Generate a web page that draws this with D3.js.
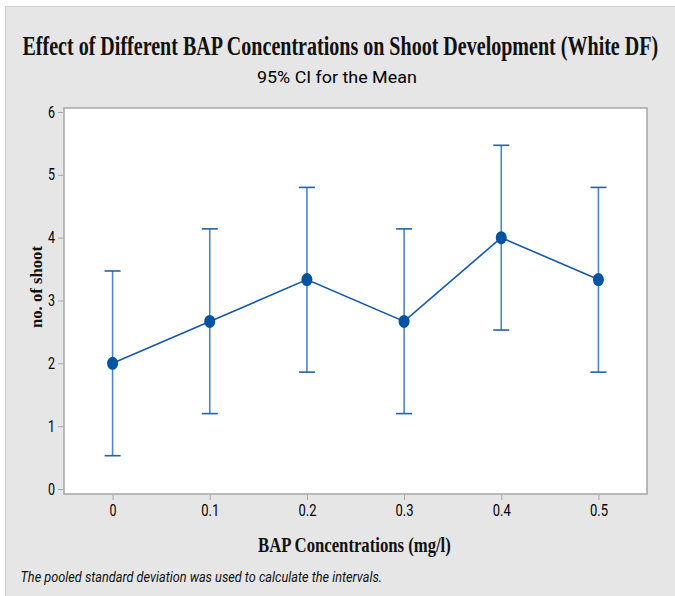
<!DOCTYPE html>
<html>
<head>
<meta charset="utf-8">
<script src="https://cdn.jsdelivr.net/npm/d3@7"></script>
<style>
  body { margin: 0; background: #fff; }
  svg { display: block; }
</style>
</head>
<body>
<svg id="chart" width="675" height="596"></svg>
<script>
// chart values
var concentrations = ["0", "0.1", "0.2", "0.3", "0.4", "0.5"];
var means = [2.0, 2.667, 3.333, 2.667, 4.0, 3.333];
var ci_upper = [3.47, 4.14, 4.80, 4.14, 5.47, 4.80];
var ci_lower = [0.53, 1.20, 1.86, 1.20, 2.53, 1.86];
var y_ticks = [0, 1, 2, 3, 4, 5, 6];

var svg = d3.select("#chart");

// squeeze a text horizontally so it spans width w, starting at x
function fit_text(sel, x, y, w, rot) {
    var natural = sel.node().getComputedTextLength();
    var sx = w / natural;
    if (rot) {
        sel.attr("transform", "translate(" + x + "," + y + ") rotate(-90) scale(" + sx + ",1)");
    } else {
        sel.attr("transform", "translate(" + x + "," + y + ") scale(" + sx + ",1)");
    }
}

// outer gray panel with thin border
svg.append("rect")
    .attr("x", 5.5).attr("y", 6.5)
    .attr("width", 675).attr("height", 596)
    .style("fill", "#e6e6e6")
    .style("stroke", "#cfcfcf")
    .style("stroke-width", 1);

var frame = { left: 64, right: 647, top: 108, bottom: 494 };

var xScale = d3.scalePoint()
    .domain(concentrations)
    .range([frame.left, frame.right])
    .padding(0.5);

var yScale = d3.scaleLinear()
    .domain([0, 6])
    .range([489, 112]);

// plot area
svg.append("rect")
    .attr("x", frame.left).attr("y", frame.top)
    .attr("width", frame.right - frame.left)
    .attr("height", frame.bottom - frame.top)
    .style("fill", "#fff")
    .style("stroke", "#a6a6a6")
    .style("stroke-width", 1.5);

// axes
var yAxis = svg.append("g")
    .attr("transform", "translate(" + (frame.left - 1) + ",0)")
    .call(d3.axisLeft(yScale).tickValues(y_ticks).tickSize(5).tickPadding(3).tickFormat(d3.format("d")));

var xAxis = svg.append("g")
    .attr("transform", "translate(0," + (frame.bottom + 1) + ")")
    .call(d3.axisBottom(xScale).tickSize(5).tickPadding(5));

[yAxis, xAxis].forEach(function(ax) {
    ax.select(".domain").remove();
    ax.selectAll(".tick line").style("stroke", "#a6a6a6").style("stroke-width", 1);
    ax.selectAll(".tick text")
        .style("font-family", "Roboto, 'Liberation Sans', sans-serif")
        .style("font-size", "16px")
        .style("fill", "#000");
});
yAxis.selectAll(".tick text").attr("textLength", 7).attr("lengthAdjust", "spacingAndGlyphs");
xAxis.selectAll(".tick text").each(function(d) {
    d3.select(this)
        .attr("textLength", d.length == 1 ? 7 : 18)
        .attr("lengthAdjust", "spacingAndGlyphs");
});

// error bars
var bars = svg.append("g").attr("class", "bars");
var capHalf = 8;
for (var i = 0; i < concentrations.length; i++) {
    var cx = xScale(concentrations[i]);
    bars.append("line")
        .attr("x1", cx).attr("x2", cx)
        .attr("y1", yScale(ci_upper[i])).attr("y2", yScale(ci_lower[i]))
        .style("stroke", "#4d86c4").style("stroke-width", 1.6);
    [ci_upper[i], ci_lower[i]].forEach(function(v) {
        bars.append("line")
            .attr("x1", cx - capHalf).attr("x2", cx + capHalf)
            .attr("y1", yScale(v)).attr("y2", yScale(v))
            .style("stroke", "#1f64ad").style("stroke-width", 1.6);
    });
}

// mean line
var path_d = "";
for (var i = 0; i < concentrations.length; i++) {
    path_d += (i == 0 ? "M " : " L ") + xScale(concentrations[i]) + " " + yScale(means[i]);
}
svg.append("path")
    .attr("d", path_d)
    .attr("fill", "none")
    .attr("stroke", "#1458a6")
    .attr("stroke-width", 1.6);

// mean markers
svg.append("g").selectAll("ellipse")
    .data(means)
    .join("ellipse")
    .attr("cx", function(d, i) { return xScale(concentrations[i]); })
    .attr("cy", function(d) { return yScale(d); })
    .attr("rx", 5.5)
    .attr("ry", 6.5)
    .style("fill", "#0052a2");

// titles
var title = svg.append("text")
    .style("font-family", "'Liberation Serif', 'Times New Roman', serif")
    .style("font-weight", "bold")
    .style("font-size", "27px")
    .style("fill", "#111")
    .text("Effect of Different BAP Concentrations on Shoot Development (White DF)");
fit_text(title, 22.5, 55, 636);

var subtitle = svg.append("text")
    .style("font-family", "Roboto, 'Liberation Sans', sans-serif")
    .style("font-size", "17px")
    .style("fill", "#000")
    .text("95% CI for the Mean");
fit_text(subtitle, 257, 83, 160);

// axis titles
var xTitle = svg.append("text")
    .style("font-family", "'Liberation Serif', 'Times New Roman', serif")
    .style("font-weight", "bold")
    .style("font-size", "20px")
    .style("fill", "#111")
    .text("BAP Concentrations (mg/l)");
fit_text(xTitle, 258, 552, 193);

var yTitle = svg.append("text")
    .style("font-family", "'Liberation Serif', 'Times New Roman', serif")
    .style("font-weight", "bold")
    .style("font-size", "16px")
    .style("fill", "#111")
    .text("no. of shoot");
fit_text(yTitle, 41.5, 328, 82, true);

// footnote
var note = svg.append("text")
    .style("font-family", "Roboto, 'Liberation Sans', sans-serif")
    .style("font-style", "italic")
    .style("font-size", "15px")
    .style("fill", "#111")
    .text("The pooled standard deviation was used to calculate the intervals.");
fit_text(note, 20.5, 582, 362);
</script>
</body>
</html>
